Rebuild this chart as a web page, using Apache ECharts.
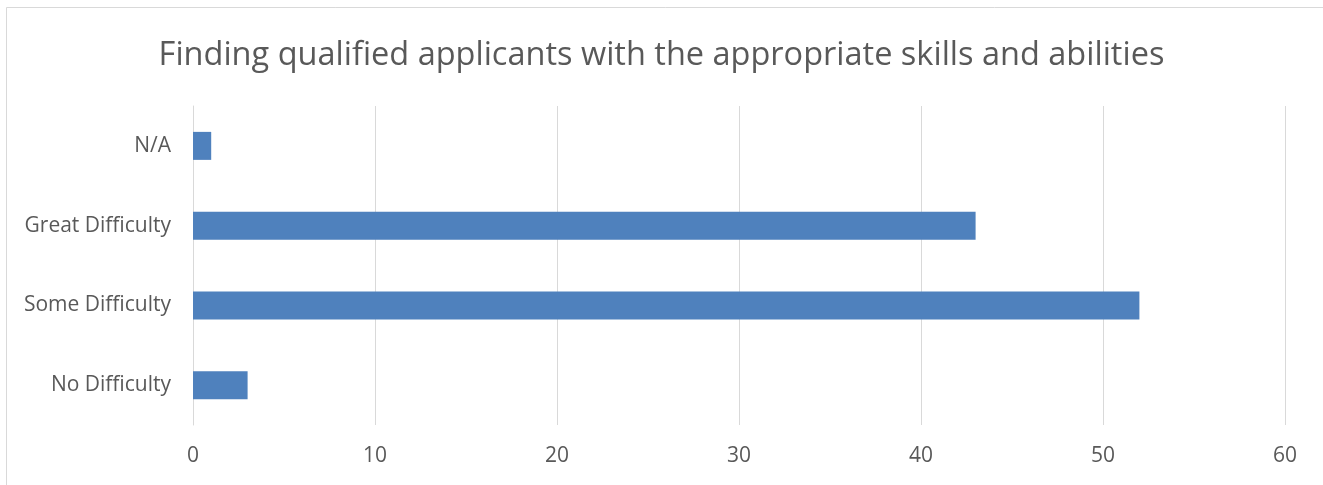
<!DOCTYPE html>
<html><head><meta charset="utf-8">
<script src="https://cdn.jsdelivr.net/npm/echarts@6/dist/echarts.min.js"></script>
<style>html,body{margin:0;padding:0;background:#fff}#c{width:1323px;height:485px}</style>
</head><body><div id="c"></div>
<script>
const categories = ['No Difficulty', 'Some Difficulty', 'Great Difficulty', 'N/A'];
const values = [3, 52, 43, 1];
const titleText = 'Finding qualified applicants with the appropriate skills and abilities';
const font = 'Open Sans';
const chart = echarts.init(document.getElementById('c'), null, {renderer: 'canvas'});
chart.setOption({
  animation: false,
  backgroundColor: '#fff',
  graphic: [{type: 'rect', shape: {x: 6.5, y: 7.5, width: 1400, height: 600}, style: {fill: 'none', stroke: '#d9d9d9', lineWidth: 1}, silent: true}],
  title: {text: titleText, left: 'center', top: 34, textStyle: {fontFamily: font, fontSize: 32.5, fontWeight: 'normal', color: '#595959'}},
  grid: {left: 193, right: 38, top: 106, bottom: 60, containLabel: false},
  xAxis: {type: 'value', min: 0, max: 60, interval: 10,
    axisLine: {show: false}, axisTick: {show: false},
    splitLine: {lineStyle: {color: '#d9d9d9', width: 1}},
    axisLabel: {fontFamily: font, fontSize: 21, color: '#595959', margin: 21}},
  yAxis: {type: 'category', data: categories,
    axisLine: {show: true, lineStyle: {color: '#d9d9d9'}}, axisTick: {show: false},
    axisLabel: {fontFamily: font, fontSize: 21, color: '#595959', margin: 22}},
  series: [{type: 'bar', data: values, barWidth: 28, itemStyle: {color: '#4f81bd'}}]
});
</script></body></html>
